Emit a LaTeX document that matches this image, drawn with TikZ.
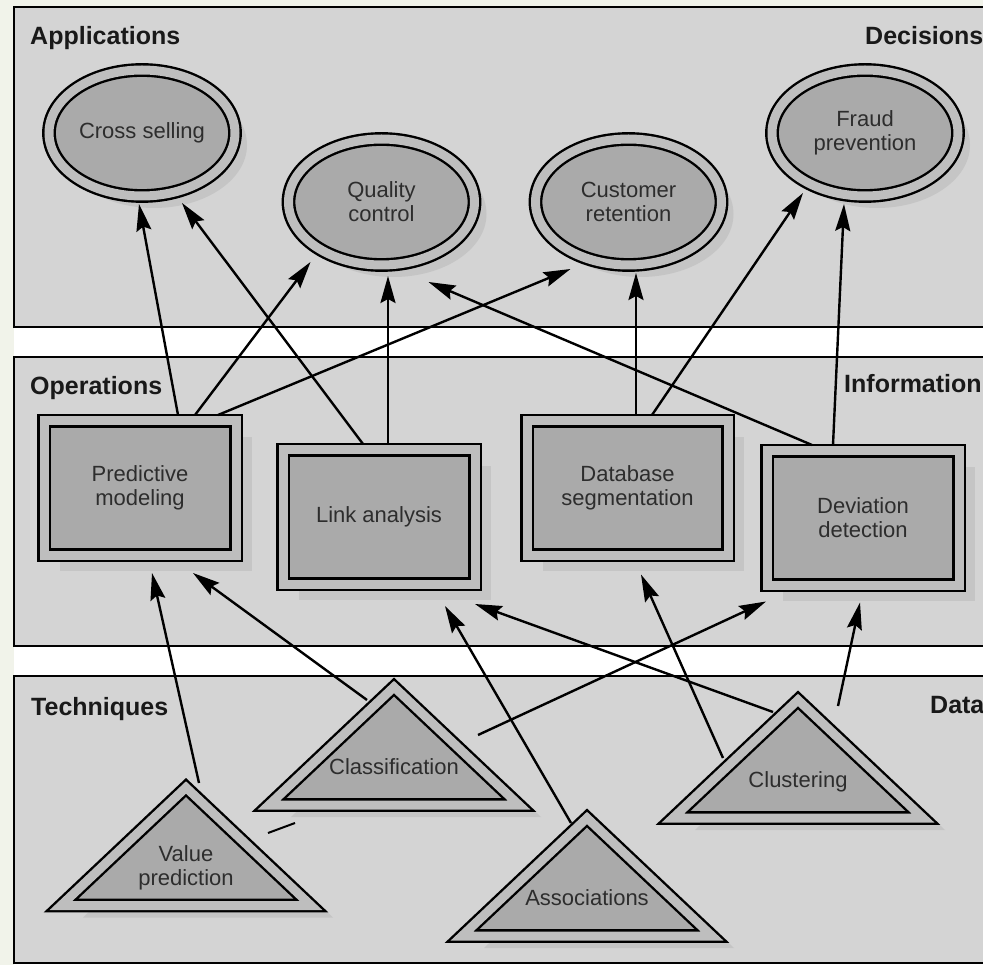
\documentclass[tikz,border=0pt]{standalone}
\usepackage{fontspec}
\setmainfont{Liberation Sans}
\usetikzlibrary{arrows.meta,shapes.geometric,shadows}
\definecolor{paper}{RGB}{241,243,234}
\definecolor{panelgray}{RGB}{212,212,212}
\definecolor{ringgray}{RGB}{190,190,190}
\definecolor{coregray}{RGB}{170,170,170}
\definecolor{shadegray}{RGB}{197,197,197}
\definecolor{inkgray}{RGB}{45,45,45}

\begin{document}
\begin{tikzpicture}[x=1pt,y=-1pt,
  panel/.style={fill=panelgray,draw=black,line width=2.4pt},
  layer/.style={font=\fontsize{25}{28}\selectfont\bfseries,text=black!90,inner sep=0pt,anchor=base west},
  label text/.style={text=inkgray,font=\fontsize{22}{24}\selectfont,align=center,inner sep=0pt},
  unit/.style={draw=black,line width=2.4pt,double=ringgray,double distance=9pt,fill=coregray,
    label text,outer sep=6pt},
  app/.style={unit,ellipse,minimum width=186pt,minimum height=126pt,
    drop shadow={shadow xshift=12pt,shadow yshift=-12pt,fill=shadegray,opacity=1}},
  op/.style={unit,rectangle,minimum width=192pt,minimum height=134pt,
    drop shadow={shadow xshift=16pt,shadow yshift=-16pt,fill=shadegray,opacity=1}},
  tech/.style={unit,isosceles triangle,shape border rotate=90,isosceles triangle stretches,
    minimum width=250pt,minimum height=118pt,anchor=apex,outer sep=0pt,
    drop shadow={shadow xshift=22pt,shadow yshift=-12pt,fill=shadegray,opacity=1}},
  flow/.style={->,line width=2.4pt,>={Stealth[length=27pt,width=15pt,inset=4pt]}}]
\useasboundingbox (0,0) rectangle (983,965);
\clip (0,0) rectangle (983,965);
\fill[paper] (0,0) rectangle (983,965);
\fill[white] (14,7) rectangle (983,965);
\draw[panel] (14,7) rectangle (1000,327);
\draw[panel] (14,357) rectangle (1000,646);
\draw[panel] (14,676) rectangle (1000,963);

\path node (applications) at (30,45) [layer] {Applications}
      node (decisions) at (865,45) [layer] {Decisions}
      node (operations) at (30,395) [layer] {Operations}
      node (information) at (844,393) [layer] {Information}
      node (techniques) at (31,715) [layer] {Techniques}
      node (data) at (930,713) [layer] {Data};

\path node (cs) at (142,133) [app] {Cross selling}
      node (qc) at (381.5,202) [app] {Quality\\control}
      node (cr) at (628.5,202) [app] {Customer\\retention}
      node (fp) at (865,133) [app] {Fraud\\prevention};

\path node (pm) at (140,488) [op] {Predictive\\modeling}
      node (la) at (379,517) [op] {Link analysis}
      node (db) at (627.5,488) [op,minimum width=201pt] {Database\\segmentation}
      node (dd) at (863,518) [op] {Deviation\\detection};

\path node (vp) at (186,787.5) [tech] {}
      node (vp-text) at ([yshift=-80pt]vp.apex) [label text] {Value\\prediction}
      node (cls) at (394,687) [tech] {}
      node (cls-text) at ([yshift=-80pt]cls.apex) [label text] {Classification}
      node (as) at (587,818) [tech] {}
      node (as-text) at ([yshift=-80pt]as.apex) [label text] {Associations}
      node (cl) at (798,700) [tech] {}
      node (cl-text) at ([yshift=-82pt]cl.apex) [label text] {Clustering};

\draw [flow] ([xshift=38pt]pm.north) to ([xshift=-3pt,yshift=-2pt]cs.south);
\draw [flow] ([xshift=-16pt]la.north) to ([xshift=40pt,yshift=-1pt]cs.south);
\draw [flow] ([xshift=55pt]pm.north) to ([xshift=-71pt,yshift=9pt]qc.south);
\draw [flow] ([xshift=78pt]pm.north) to ([xshift=-58pt,yshift=2pt]cr.south);
\draw [flow] ([xshift=9pt]la.north) to ([xshift=6.5pt,yshift=-5pt]qc.south);
\draw [flow] ([xshift=-51pt]dd.north) to ([xshift=47pt,yshift=-11pt]qc.south);
\draw [flow] ([xshift=8.5pt]db.north) to ([xshift=7.5pt,yshift=-2pt]cr.south);
\draw [flow] ([xshift=24.5pt]db.north) to ([xshift=-62pt,yshift=9pt]fp.south);
\draw [flow] ([xshift=-30pt]dd.north) to ([xshift=-21pt,yshift=-2pt]fp.south);

\draw [flow] ([xshift=13pt,yshift=4.5pt]vp.apex) to ([xshift=12pt,yshift=-12pt]pm.south);
\draw [flow] ([xshift=-27pt,yshift=-13pt]cls.apex) to ([xshift=53pt,yshift=-12pt]pm.south);
\draw [flow] ([xshift=-16pt,yshift=-5pt]as.apex) to ([xshift=66pt,yshift=-16pt]la.south);
\draw [flow] ([xshift=-25pt,yshift=-12pt]cl.apex) to ([xshift=96pt,yshift=-14pt]la.south);
\draw [flow] ([xshift=84pt,yshift=-48pt]cls.apex) to ([xshift=-97pt,yshift=-10.5pt]dd.south);
\draw [flow] ([xshift=-75pt,yshift=-58pt]cl.apex) to ([xshift=13.5pt,yshift=-13.5pt]db.south);
\draw [flow] ([xshift=40pt,yshift=-6pt]cl.apex) to ([xshift=-3pt,yshift=-11.5pt]dd.south);
\draw [line width=2pt] (268,833) -- (295,823);
\end{tikzpicture}
\end{document}
